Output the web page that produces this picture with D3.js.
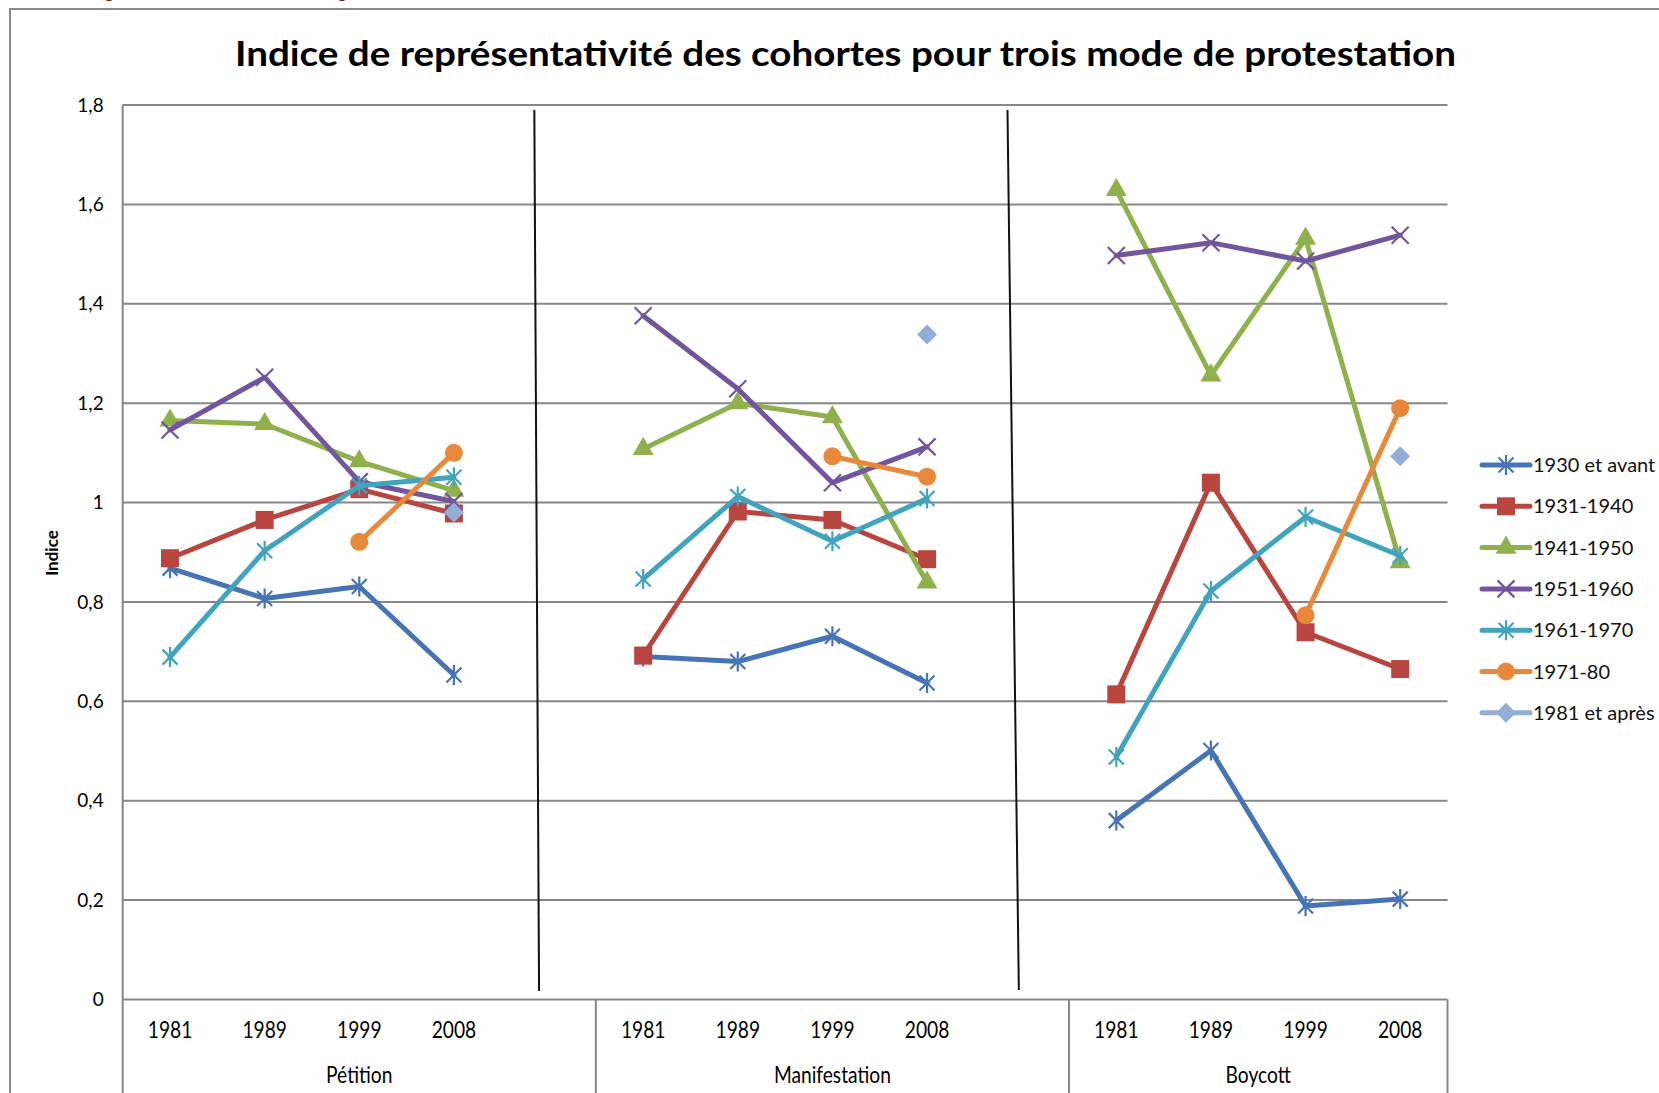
<!DOCTYPE html>
<html>
<head>
<meta charset="utf-8">
<script src="https://cdn.jsdelivr.net/npm/d3@7"></script>
<style>
  html, body { margin: 0; padding: 0; background: #fff; overflow: hidden; }
  text { font-family: Lato, "Open Sans", sans-serif; fill: #000; }
</style>
</head>
<body>
<script>
// categories: four waves per protest mode, with a blank slot between modes
var categories = ['1981', '1989', '1999', '2008', '', '1981', '1989', '1999', '2008', '', '1981', '1989', '1999', '2008'];
var groups = ['Pétition', 'Manifestation', 'Boycott'];
var groupStart = [0, 5, 10];
var groupEnd = [5, 10, 14];
var yTicks = [0, 0.2, 0.4, 0.6, 0.8, 1, 1.2, 1.4, 1.6, 1.8];

var seriesNames = ['1930 et avant', '1931-1940', '1941-1950', '1951-1960', '1961-1970', '1971-80', '1981 et après'];
var s1930 = [0.868, 0.807, 0.831, 0.653, null, 0.690, 0.680, 0.731, 0.637, null, 0.360, 0.501, 0.188, 0.202];
var s1931 = [0.888, 0.965, 1.027, 0.978, null, 0.692, 0.982, 0.965, 0.886, null, 0.614, 1.040, 0.739, 0.665];
var s1941 = [1.165, 1.158, 1.083, 1.024, null, 1.108, 1.200, 1.172, 0.839, null, 1.629, 1.256, 1.531, 0.880];
var s1951 = [1.146, 1.252, 1.042, 1.002, null, 1.376, 1.229, 1.040, 1.112, null, 1.497, 1.523, 1.486, 1.538];
var s1961 = [0.689, 0.903, 1.034, 1.051, null, 0.846, 1.012, 0.922, 1.008, null, 0.488, 0.822, 0.971, 0.893];
var s1971 = [null, null, 0.921, 1.100, null, null, null, 1.093, 1.052, null, null, null, 0.773, 1.190];
var s1981 = [null, null, null, 0.980, null, null, null, null, 1.338, null, null, null, null, 1.093];
var seriesValues = [s1930, s1931, s1941, s1951, s1961, s1971, s1981];

var colors = ['#4674b6', '#b9453f', '#8fb04b', '#72559c', '#40a4bf', '#e8883a', '#93aed6'];
var markers = ['star', 'square', 'triangle', 'x', 'star', 'circle', 'diamond'];

// hand drawn separators: [slot position, value] at each end
var separators = [[[4.35, 1.79], [4.40, 0.017]], [[9.35, 1.79], [9.47, 0.019]]];

var width = 1659, height = 1093;
var plotLeft = 122.7, plotRight = 1447.5, plotTop = 105, plotBottom = 999.5;

var svg = d3.select('body').append('svg')
  .attr('width', width)
  .attr('height', height);

var x = d3.scaleBand().domain(d3.range(categories.length)).range([plotLeft, plotRight]);
var xPos = d3.scaleLinear().domain([0, categories.length]).range([plotLeft, plotRight]);
var y = d3.scaleLinear().domain([0, 1.8]).range([plotBottom, plotTop]);
var bw = x.bandwidth();

var fr = d3.formatLocale({decimal: ',', thousands: ' ', grouping: [3], currency: ['', '€']});
var fmt = fr.format('~g');

// bits of a heading above the frame
svg.append('text').attr('x', 104).attr('y', -6).style('font-size', '40px').style('font-weight', 'bold')
  .style('fill', '#6e2a20').text('p');
svg.append('text').attr('x', 337).attr('y', -6).style('font-size', '40px').style('font-weight', 'bold')
  .style('fill', '#6e2a20').text('p');

// outer frame
svg.append('rect')
  .attr('x', 10).attr('y', 9)
  .attr('width', 1800).attr('height', 1300)
  .style('fill', 'none').style('stroke', '#8a8a8a').style('stroke-width', 2);

// title
svg.append('text')
  .attr('x', 845.5).attr('y', 66)
  .attr('text-anchor', 'middle')
  .attr('textLength', 1221)
  .attr('lengthAdjust', 'spacingAndGlyphs')
  .style('font-size', '35px').style('font-weight', 'bold')
  .text('Indice de représentativité des cohortes pour trois mode de protestation');

// gridlines
svg.append('g')
  .selectAll('line')
  .data(yTicks)
  .enter().append('line')
  .attr('x1', plotLeft).attr('x2', plotRight)
  .attr('y1', function(d) { return y(d); })
  .attr('y2', function(d) { return y(d); })
  .style('stroke', '#878787').style('stroke-width', 2);

// y axis
var yAxis = svg.append('g')
  .attr('transform', 'translate(' + plotLeft + ',0)')
  .call(d3.axisLeft(y).tickValues(yTicks).tickFormat(fmt).tickSize(0).tickPadding(19));
yAxis.select('.domain').remove();
yAxis.selectAll('text').style('font-size', '19px').style('font-family', 'Lato, sans-serif').style('fill', '#000');

svg.append('line')
  .attr('x1', plotLeft).attr('x2', plotLeft)
  .attr('y1', plotTop).attr('y2', height)
  .style('stroke', '#878787').style('stroke-width', 2);

svg.append('text')
  .attr('transform', 'translate(58,553) rotate(-90)')
  .attr('text-anchor', 'middle')
  .style('font-size', '17px').style('font-weight', 'bold')
  .text('Indice');

// x axis, year labels
var xAxis = svg.append('g')
  .attr('transform', 'translate(0,' + plotBottom + ')')
  .call(d3.axisBottom(x).tickFormat(function(i) { return categories[i]; }).tickSize(0));
xAxis.select('.domain').remove();
xAxis.selectAll('text')
  .attr('y', 38).attr('dy', 0)
  .style('font-size', '24px').style('font-family', 'Lato, sans-serif').style('fill', '#000')
  .each(function() {
    var len = this.getComputedTextLength();
    if(len > 0) { d3.select(this).attr('textLength', len * 0.8).attr('lengthAdjust', 'spacingAndGlyphs'); }
  });

// group boxes below the axis
var bounds = [0, 5, 10, 14];
svg.append('g').selectAll('line')
  .data(bounds.slice(1))
  .enter().append('line')
  .attr('x1', function(d) { return xPos(d); })
  .attr('x2', function(d) { return xPos(d); })
  .attr('y1', plotBottom).attr('y2', height)
  .style('stroke', '#878787').style('stroke-width', 2);

svg.append('g').selectAll('text')
  .data(groups)
  .enter().append('text')
  .attr('x', function(d, i) { return (xPos(groupStart[i]) + xPos(groupEnd[i])) / 2; })
  .attr('y', 1083)
  .attr('text-anchor', 'middle')
  .style('font-size', '24px')
  .text(function(d) { return d; })
  .each(function() {
    var len = this.getComputedTextLength();
    d3.select(this).attr('textLength', len * 0.8).attr('lengthAdjust', 'spacingAndGlyphs');
  });

// series
var line = d3.line()
  .defined(function(d) { return d !== null; })
  .x(function(d, i) { return x(i) + bw / 2; })
  .y(function(d) { return y(d); });

var markerPath = function(type) {
  if(type === 'square') { return d3.symbol().type(d3.symbolSquare).size(324)(); }
  if(type === 'triangle') { return d3.symbol().type(d3.symbolTriangle).size(190)(); }
  if(type === 'circle') { return d3.symbol().type(d3.symbolCircle).size(255)(); }
  if(type === 'diamond') { return 'M0,-10L10,0L0,10L-10,0Z'; }
  if(type === 'x') { return 'M-8.5,-8.5L8.5,8.5M-8.5,8.5L8.5,-8.5'; }
  return 'M-7.5,-7.5L7.5,7.5M-7.5,7.5L7.5,-7.5M0,-10L0,10';
};

var isStroked = function(k) {
  return markers[k] === 'x' || markers[k] === 'star';
};

var drawSeries = function(values, k) {
  var g = svg.append('g');
  var color = colors[k];
  g.append('path')
    .datum(values)
    .attr('d', line)
    .style('fill', 'none')
    .style('stroke', color)
    .style('stroke-width', 5)
    .style('stroke-linejoin', 'round')
    .style('stroke-linecap', 'round');

  var pts = values.map(function(v, i) { return {v: v, i: i}; })
    .filter(function(p) { return p.v !== null; });
  g.selectAll('.mk')
    .data(pts)
    .enter().append('path')
    .attr('transform', function(p) { return 'translate(' + (x(p.i) + bw / 2) + ',' + y(p.v) + ')'; })
    .attr('d', markerPath(markers[k]))
    .style('fill', isStroked(k) ? 'none' : color)
    .style('stroke', color)
    .style('stroke-width', isStroked(k) ? 2.2 : 0);
};

seriesValues.forEach(drawSeries);

// hand drawn black separators
svg.append('g').selectAll('line')
  .data(separators)
  .enter().append('line')
  .attr('x1', function(d) { return xPos(d[0][0]); })
  .attr('y1', function(d) { return y(d[0][1]); })
  .attr('x2', function(d) { return xPos(d[1][0]); })
  .attr('y2', function(d) { return y(d[1][1]); })
  .style('stroke', '#111').style('stroke-width', 2);

// legend
var legend = svg.append('g').selectAll('g')
  .data(seriesNames)
  .enter().append('g')
  .attr('transform', function(d, i) { return 'translate(1482,' + (465 + i * 41.3) + ')'; });

legend.append('line')
  .attr('x1', 0).attr('x2', 48)
  .style('stroke', function(d, i) { return colors[i]; })
  .style('stroke-width', 5)
  .style('stroke-linecap', 'round');

legend.append('path')
  .attr('transform', 'translate(24,0)')
  .attr('d', function(d, i) { return markerPath(markers[i]); })
  .style('fill', function(d, i) { return isStroked(i) ? 'none' : colors[i]; })
  .style('stroke', function(d, i) { return colors[i]; })
  .style('stroke-width', function(d, i) { return isStroked(i) ? 2.2 : 0; });

legend.append('text')
  .attr('x', 51).attr('y', 7)
  .style('font-size', '20px')
  .style('fill', '#111')
  .text(function(d) { return d; });
</script>
</body>
</html>
